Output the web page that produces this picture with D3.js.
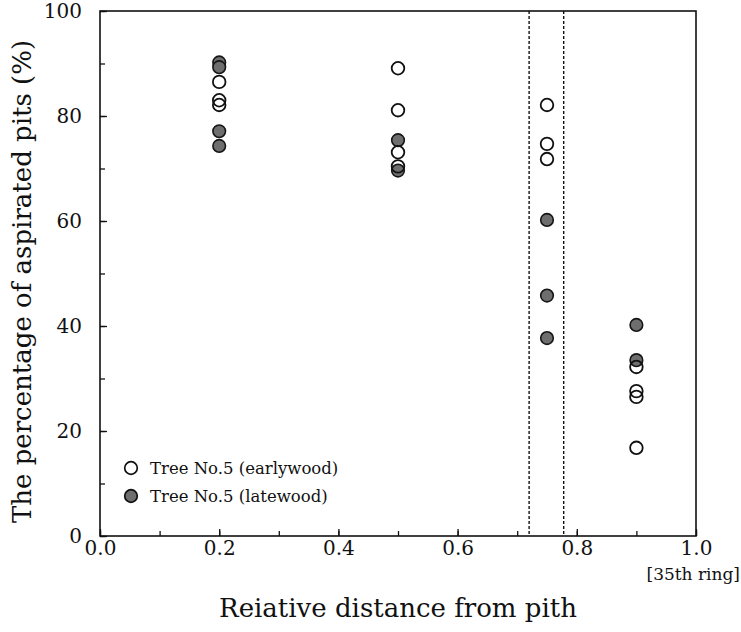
<!DOCTYPE html>
<html>
<head>
<meta charset="utf-8">
<script src="https://cdn.jsdelivr.net/npm/d3@7"></script>
<style>
  body { margin: 0; background: #fff; }
  svg text { font-family: "DejaVu Serif", "Liberation Serif", serif; fill: #111; }
</style>
</head>
<body>
<svg id="chart" width="741" height="632"></svg>
<script>
var earlyX = [0.2, 0.2, 0.2, 0.5, 0.5, 0.5, 0.5, 0.75, 0.75, 0.75, 0.9, 0.9, 0.9, 0.9];
var earlyY = [86.5, 83.0, 82.1, 89.1, 81.1, 73.1, 70.4, 82.1, 74.7, 71.8, 32.2, 27.6, 26.5, 16.8];
var lateX = [0.2, 0.2, 0.2, 0.2, 0.5, 0.5, 0.75, 0.75, 0.75, 0.9, 0.9];
var lateY = [90.2, 89.3, 77.1, 74.3, 75.4, 69.6, 60.2, 45.8, 37.7, 40.2, 33.5];
var boundaryX = [0.72, 0.778];
var xTicks = [0, 0.2, 0.4, 0.6, 0.8, 1.0];
var yTicks = [0, 20, 40, 60, 80, 100];

;(function () {
  'use strict';

  var svg = d3.select('#chart');
  var pLeft = 100, pRight = 696, pTop = 11, pBottom = 536;

  var x = d3.scaleLinear().domain([0, 1]).range([pLeft, pRight]);
  var y = d3.scaleLinear().domain([0, 100]).range([pBottom, pTop]);

  // frame
  svg.append('rect')
    .attr('x', pLeft).attr('y', pTop)
    .attr('width', pRight - pLeft).attr('height', pBottom - pTop)
    .attr('fill', 'none').attr('stroke', '#111').attr('stroke-width', 1.6);

  // inner ticks
  var xAxis = svg.append('g').attr('transform', 'translate(0,' + pBottom + ')');
  xAxis.append('g').call(d3.axisBottom(x).tickValues(d3.range(0, 1.01, 0.1)).tickSize(-5).tickFormat(''));
  xAxis.append('g').call(d3.axisBottom(x).tickValues(xTicks).tickSize(-7).tickPadding(5).tickFormat(d3.format('.1f')));
  var yAxis = svg.append('g').attr('transform', 'translate(' + pLeft + ',0)');
  yAxis.append('g').call(d3.axisLeft(y).tickValues(d3.range(0, 101, 10)).tickSize(-5).tickFormat(''));
  yAxis.append('g').call(d3.axisLeft(y).tickValues(yTicks).tickSize(-7).tickPadding(18).tickFormat(d3.format('d')));
  svg.selectAll('.domain').remove();
  svg.selectAll('.tick line').attr('stroke', '#111').attr('stroke-width', 1.3);
  svg.selectAll('.tick text').style('font-size', '20px')
    .style('font-family', '"DejaVu Serif", serif').attr('fill', '#111');

  // ring boundary
  svg.selectAll('line.boundary').data(boundaryX).enter().append('line')
    .attr('class', 'boundary')
    .attr('x1', function(d){ return x(d); }).attr('x2', function(d){ return x(d); })
    .attr('y1', pTop).attr('y2', pBottom)
    .attr('stroke', '#111').attr('stroke-width', 1.4)
    .style('stroke-dasharray', ('3, 2'));

  // points
  var r = 6.3;
  svg.append('g').selectAll('circle').data(d3.range(lateX.length)).enter().append('circle')
    .attr('cx', function(i){ return x(lateX[i]); })
    .attr('cy', function(i){ return y(lateY[i]); })
    .attr('r', r).attr('fill', '#6e6e6e').attr('stroke', '#151515').attr('stroke-width', 1.6);
  svg.append('g').selectAll('circle').data(d3.range(earlyX.length)).enter().append('circle')
    .attr('cx', function(i){ return x(earlyX[i]); })
    .attr('cy', function(i){ return y(earlyY[i]); })
    .attr('r', r).attr('fill', 'none').attr('stroke', '#111').attr('stroke-width', 1.8);

  // legend
  var legend = [
    {label: 'Tree No.5 (earlywood)', fill: 'none'},
    {label: 'Tree No.5 (latewood)', fill: '#6e6e6e'}
  ];
  var lg = svg.append('g');
  legend.forEach(function(d, i){
    lg.append('circle').attr('cx', 131).attr('cy', 468 + i * 28).attr('r', r)
      .attr('fill', d.fill).attr('stroke', '#111').attr('stroke-width', 1.7);
    lg.append('text').attr('x', 150).attr('y', 474 + i * 28)
      .style('font-size', '16.5px').text(d.label);
  });

  // titles
  svg.append('text').attr('x', 398).attr('y', 617).attr('text-anchor', 'middle')
    .style('font-size', '26px').text('Reiative distance from pith');
  svg.append('text').attr('x', 740).attr('y', 580).attr('text-anchor', 'end')
    .style('font-size', '17px').text('[35th ring]');
  svg.append('text')
    .attr('transform', 'translate(31,' + ((pTop + pBottom) / 2 + 8) + ') rotate(-90)')
    .attr('text-anchor', 'middle').style('font-size', '26px')
    .text('The percentage of aspirated pits (%)');
})();
</script>
</body>
</html>
